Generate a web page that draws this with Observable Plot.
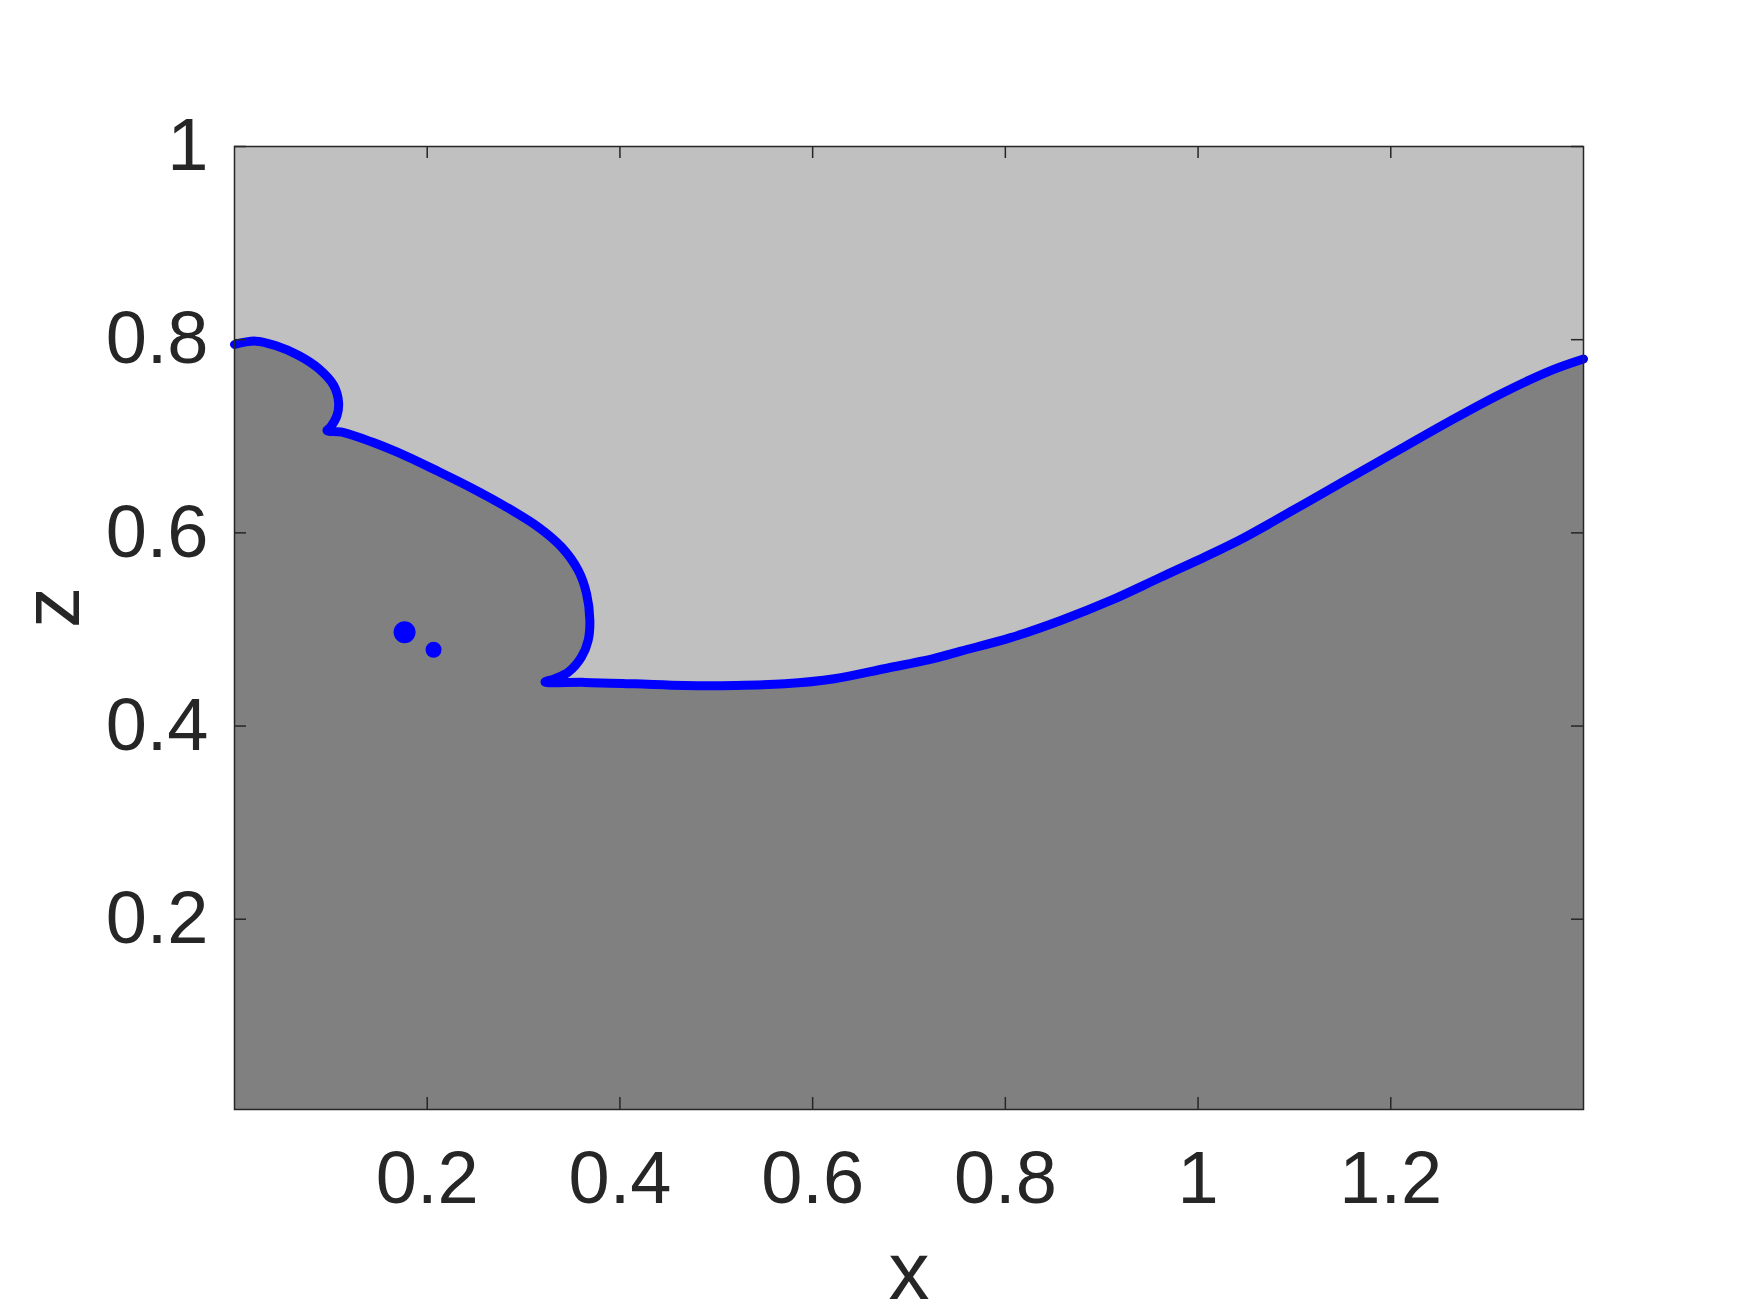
<!DOCTYPE html>
<html>
<head>
<meta charset="utf-8">
<script src="https://cdn.jsdelivr.net/npm/d3@7"></script>
<script src="https://cdn.jsdelivr.net/npm/@observablehq/plot@0.6"></script>
<style>
  html, body { margin: 0; padding: 0; background: #ffffff; }
  #chart svg { display: block; }
</style>
</head>
<body>
<div id="chart"></div>
<script>
// Axis domains and ticks
const xDomain = [0, 1.4];
const zDomain = [0.003, 1];
const xTicks = [0.2, 0.4, 0.6, 0.8, 1, 1.2];
const zTicks = [0.2, 0.4, 0.6, 0.8, 1];
const xLabel = "x";
const zLabel = "z";

// Free-surface interface
const interfaceX = [0.000, 0.0218, 0.0425, 0.0667, 0.0874, 0.103, 0.108, 0.1064, 0.0995, 0.096,
  0.1116, 0.1427, 0.177, 0.2117, 0.246, 0.2808, 0.3153, 0.3395, 0.3568, 0.3654,
  0.3688, 0.367, 0.360, 0.3464, 0.3326, 0.3223, 0.3636, 0.4155, 0.467, 0.519,
  0.571, 0.6226, 0.6745, 0.7262, 0.7538, 0.8056, 0.8575, 0.9094, 0.9613, 1.0132,
  1.0477, 1.0996, 1.1515, 1.2103, 1.2622, 1.314, 1.366, 1.4];
const interfaceZ = [0.795, 0.7985, 0.794, 0.7836, 0.770, 0.7526, 0.7353, 0.7215, 0.7094, 0.706,
  0.7043, 0.694, 0.680, 0.6635, 0.6465, 0.6275, 0.606, 0.5852, 0.561, 0.537,
  0.5093, 0.4886, 0.4713, 0.4558, 0.449, 0.4455, 0.4452, 0.4437, 0.442, 0.442,
  0.4437, 0.449, 0.4593, 0.4700, 0.4775, 0.4915, 0.5093, 0.530, 0.554, 0.578,
  0.595, 0.624, 0.6535, 0.6869, 0.7162, 0.7438, 0.768, 0.780];

// Detached droplets / bubbles
const bubbleX = [0.1765, 0.2066];
const bubbleZ = [0.497, 0.479];

// Build tables
const interfacePts = interfaceX.map((x, i) => ({x, z: interfaceZ[i]}));
const liquidPoly = interfacePts.concat([
  {x: xDomain[1], z: zDomain[0]},
  {x: xDomain[0], z: zDomain[0]}
]);
const bubbles = bubbleX.map((x, i) => ({x, z: bubbleZ[i]}));

const W = 1750, H = 1313;
const mL = 234, mR = 167, mT = 146, mB = 204;
const innerW = W - mL - mR, innerH = H - mT - mB;
const tickLen = 12;
const ink = "#262626";
const font = "'Liberation Sans', Arial, Helvetica, sans-serif";

const chart = Plot.plot({
  width: W,
  height: H,
  marginLeft: mL,
  marginRight: mR,
  marginTop: mT,
  marginBottom: mB,
  style: {fontFamily: font, color: ink, background: "#ffffff", overflow: "visible"},
  x: {domain: xDomain},
  y: {domain: zDomain},
  marks: [
    Plot.frame({fill: "#c0c0c0"}),
    Plot.line(liquidPoly, {x: "x", y: "z", fill: "#808080", stroke: "none"}),
    Plot.line(interfacePts, {x: "x", y: "z", stroke: "#0000ff", strokeWidth: 9, curve: "catmull-rom", strokeLinejoin: "round", strokeLinecap: "round"}),
    Plot.dot([bubbles[0]], {x: "x", y: "z", r: 11, fill: "#0000ff"}),
    Plot.dot([bubbles[1]], {x: "x", y: "z", r: 8, fill: "#0000ff"}),
    // inward ticks
    Plot.ruleX(xTicks, {x: d => d, insetTop: innerH - tickLen, stroke: ink, strokeWidth: 1.5}),
    Plot.ruleX(xTicks, {x: d => d, insetBottom: innerH - tickLen, stroke: ink, strokeWidth: 1.5}),
    Plot.ruleY(zTicks, {y: d => d, insetRight: innerW - tickLen, stroke: ink, strokeWidth: 1.5}),
    Plot.ruleY(zTicks, {y: d => d, insetLeft: innerW - tickLen, stroke: ink, strokeWidth: 1.5}),
    Plot.frame({stroke: ink, strokeWidth: 1.5}),
    Plot.axisX({ticks: xTicks, tickSize: 0, tickPadding: 41, fontSize: 74, tickFormat: d => String(d), label: null, fill: ink}),
    Plot.axisY({ticks: zTicks, tickSize: 0, tickPadding: 26, fontSize: 74, tickFormat: d => String(d), label: null, fill: ink}),
    Plot.text([xLabel], {text: d => d, frameAnchor: "bottom", lineAnchor: "top", dy: 131, fontSize: 82, fill: ink}),
    Plot.text([zLabel], {text: d => d, frameAnchor: "left", lineAnchor: "top", rotate: -90, dx: -214, fontSize: 82, fill: ink})
  ]
});
document.getElementById("chart").appendChild(chart);
</script>
</body>
</html>
